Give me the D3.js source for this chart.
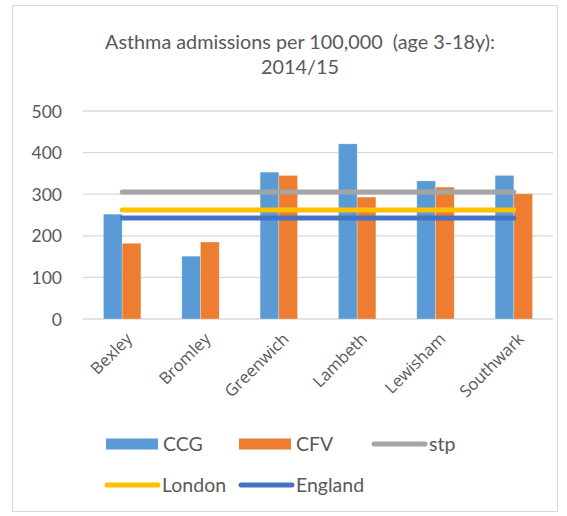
<!DOCTYPE html>
<html><head><meta charset="utf-8">
<script src="https://cdn.jsdelivr.net/npm/d3@7"></script>
<style>body{margin:0;background:#fff}svg{display:block}</style>
</head><body>
<script>
const categories = ["Bexley","Bromley","Greenwich","Lambeth","Lewisham","Southwark"];
const ccg = [252,151,353,421,332,345];
const cfv = [182,185,345,293,317,301];
const stp = [305,305,305,305,305,305];
const london = [262,262,262,262,262,262];
const england = [243,243,243,243,243,243];
const yTicks = [0,100,200,300,400,500];
const titleLines = ["Asthma admissions per 100,000  (age 3-18y):","2014/15"];

const W=567,H=516;
const svg=d3.select("body").append("svg").attr("width",W).attr("height",H);
const font="Lato, 'Open Sans', sans-serif";
const txt="#595959";

svg.append("rect").attr("x",12.5).attr("y",5.5).attr("width",545).attr("height",506)
  .attr("fill","#fff").attr("stroke","#D9D9D9");

svg.selectAll("text.title").data(titleLines).join("text").attr("class","title")
  .attr("x",300).attr("y",(d,i)=>49+i*25).attr("text-anchor","middle")
  .style("white-space","pre")
  .attr("font-family",font).attr("font-size",19.8).attr("fill",txt).text(d=>d);

const x=d3.scaleBand().domain(categories).range([83,553]).paddingInner(0).paddingOuter(0);
const y=d3.scaleLinear().domain([0,500]).range([319,111]);

// gridlines
svg.append("g").selectAll("line").data(yTicks).join("line")
  .attr("x1",83).attr("x2",553).attr("y1",d=>y(d)).attr("y2",d=>y(d))
  .attr("stroke","#D9D9D9").attr("stroke-width",1.3);

// y axis labels
const yAxis=d3.axisLeft(y).tickValues(yTicks).tickSize(0).tickPadding(0);
const ya=svg.append("g").attr("transform","translate(62,0)").call(yAxis);
ya.select(".domain").remove();
ya.selectAll("text").attr("font-family",font).attr("font-size",17.5).attr("fill",txt).attr("dy","0.35em");

// bars
const bw=18.7;
const series=[{name:"CCG",vals:ccg,color:"#5B9BD5",off:-bw},{name:"CFV",vals:cfv,color:"#ED7D31",off:0}];
series.forEach(s=>{
  svg.append("g").selectAll("rect").data(categories).join("rect")
    .attr("x",(d)=>x(d)+x.bandwidth()/2+s.off).attr("width",bw)
    .attr("y",(d,i)=>y(s.vals[i])).attr("height",(d,i)=>y(0)-y(s.vals[i]))
    .attr("fill",s.color).attr("stroke","#fff").attr("stroke-opacity",0.35).attr("stroke-width",0.7);
});

// lines
const lineSeries=[{name:"stp",vals:stp,color:"#A5A5A5"},{name:"London",vals:london,color:"#FFC000"},{name:"England",vals:england,color:"#4472C4"}];
const line=d3.line().x((d,i)=>x(categories[i])+x.bandwidth()/2).y(d=>y(d));
lineSeries.forEach(s=>{
  svg.append("path").datum(s.vals).attr("d",line).attr("fill","none")
    .attr("stroke",s.color).attr("stroke-width",5).attr("stroke-linecap","round");
});

// x labels
const xa=svg.append("g").attr("transform","translate(0,319)").call(d3.axisBottom(x).tickSize(0).tickPadding(0));
xa.select(".domain").remove();
xa.selectAll("text").attr("font-family","'Open Sans', sans-serif").attr("font-size",16.5).attr("fill",txt)
  .attr("text-anchor","end").attr("dy",0).attr("y",0)
  .attr("transform","translate(11,21) rotate(-45)");

// legend
const leg=[
  {name:"CCG",type:"rect",color:"#5B9BD5",x:106,y:444},
  {name:"CFV",type:"rect",color:"#ED7D31",x:239,y:444},
  {name:"stp",type:"line",color:"#A5A5A5",x:372,y:444},
  {name:"London",type:"line",color:"#FFC000",x:105,y:485},
  {name:"England",type:"line",color:"#4472C4",x:239,y:485}];
leg.forEach(l=>{
  if(l.type==="rect") svg.append("rect").attr("x",l.x).attr("y",l.y-5.5).attr("width",52).attr("height",11).attr("fill",l.color);
  else svg.append("line").attr("x1",l.x+2).attr("x2",l.x+53).attr("y1",l.y).attr("y2",l.y).attr("stroke",l.color).attr("stroke-width",5).attr("stroke-linecap","round");
  svg.append("text").attr("x",l.x+57).attr("y",l.y).attr("dy","0.35em").attr("font-family",font).attr("font-size",19.5).attr("fill",txt).text(l.name);
});
</script>
</body></html>
